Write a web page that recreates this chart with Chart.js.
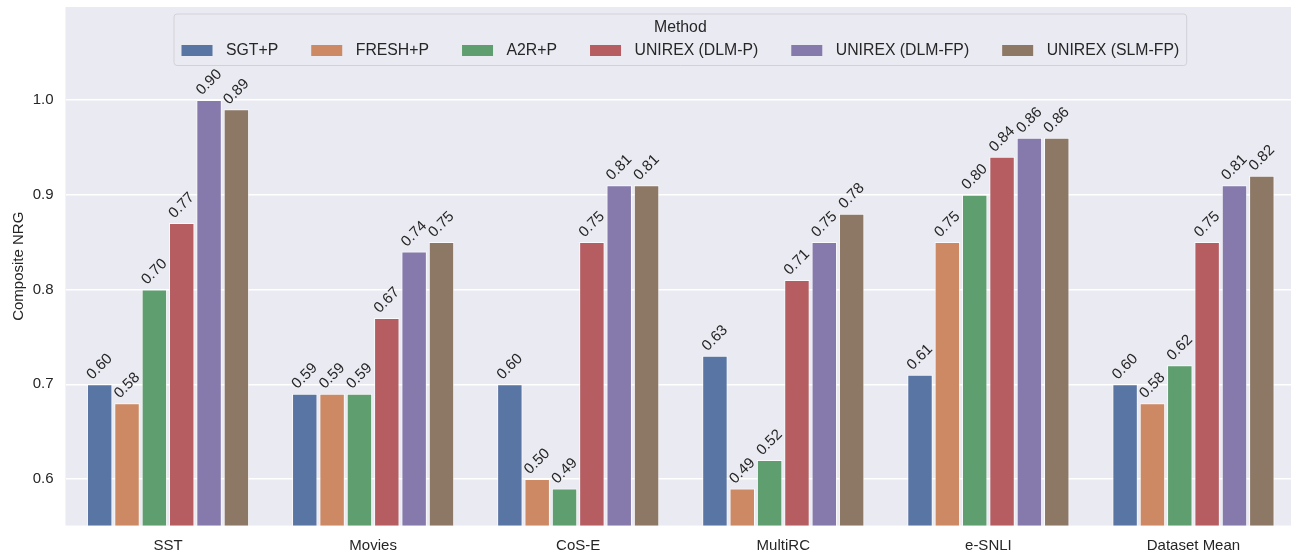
<!DOCTYPE html>
<html>
<head>
<meta charset="utf-8">
<script src="https://cdn.jsdelivr.net/npm/chart.js@4.4.1/dist/chart.umd.min.js"></script>
<style>
  html, body { margin: 0; padding: 0; background: #ffffff; overflow: hidden; }
  #wrap { width: 1296px; height: 554px; }
</style>
</head>
<body>
<div id="wrap"><canvas id="nrgChart" width="1296" height="554"></canvas></div>
<script>
const categories = ['SST', 'Movies', 'CoS-E', 'MultiRC', 'e-SNLI', 'Dataset Mean'];
const methods = ['SGT+P', 'FRESH+P', 'A2R+P', 'UNIREX (DLM-P)', 'UNIREX (DLM-FP)', 'UNIREX (SLM-FP)'];
const colors = ['#5975a4', '#cc8963', '#5f9e6e', '#b55d60', '#857aab', '#8d7866'];

// bar heights as drawn on the axis
const sgtBars = [0.70, 0.69, 0.70, 0.73, 0.71, 0.70];
const freshBars = [0.68, 0.69, 0.60, 0.59, 0.85, 0.68];
const a2rBars = [0.80, 0.69, 0.59, 0.62, 0.90, 0.72];
const dlmPBars = [0.87, 0.77, 0.85, 0.81, 0.94, 0.85];
const dlmFpBars = [1.00, 0.84, 0.91, 0.85, 0.96, 0.91];
const slmFpBars = [0.99, 0.85, 0.91, 0.88, 0.96, 0.92];

// numbers printed above the bars
const sgtLabels = [0.60, 0.59, 0.60, 0.63, 0.61, 0.60];
const freshLabels = [0.58, 0.59, 0.50, 0.49, 0.75, 0.58];
const a2rLabels = [0.70, 0.59, 0.49, 0.52, 0.80, 0.62];
const dlmPLabels = [0.77, 0.67, 0.75, 0.71, 0.84, 0.75];
const dlmFpLabels = [0.90, 0.74, 0.81, 0.75, 0.86, 0.81];
const slmFpLabels = [0.89, 0.75, 0.81, 0.78, 0.86, 0.82];

const yTicks = [0.6, 0.7, 0.8, 0.9, 1.0];
const yMin = 0.551;
const yMax = 1.098;

const barSeries = [sgtBars, freshBars, a2rBars, dlmPBars, dlmFpBars, slmFpBars];
const labelSeries = [sgtLabels, freshLabels, a2rLabels, dlmPLabels, dlmFpLabels, slmFpLabels];

const TEXT_COLOR = '#262626';
const FONT = '"Liberation Sans", Arial, sans-serif';

const plotBackground = {
  id: 'plotBackground',
  beforeDraw(chart) {
    const { ctx, chartArea } = chart;
    ctx.save();
    ctx.fillStyle = '#eaeaf2';
    ctx.fillRect(chartArea.left, chartArea.top, chartArea.right - chartArea.left, chartArea.bottom - chartArea.top);
    ctx.restore();
  },
};

const barLabels = {
  id: 'barLabels',
  afterDatasetsDraw(chart) {
    const { ctx } = chart;
    const size = 15;
    ctx.save();
    ctx.font = `${size}px ${FONT}`;
    ctx.fillStyle = TEXT_COLOR;
    ctx.textAlign = 'center';
    ctx.textBaseline = 'middle';
    chart.data.datasets.forEach((ds, i) => {
      const meta = chart.getDatasetMeta(i);
      meta.data.forEach((bar, j) => {
        const text = labelSeries[i][j].toFixed(2);
        const w = ctx.measureText(text).width;
        const half = (w + size) * Math.SQRT1_2 / 2;
        ctx.save();
        ctx.translate(bar.x, bar.y - 2 - half);
        ctx.rotate(-Math.PI / 4);
        ctx.fillText(text, 0, 0);
        ctx.restore();
      });
    });
    ctx.restore();
  },
};

const boxLegend = {
  id: 'boxLegend',
  afterDraw(chart) {
    const { ctx } = chart;
    const size = 15.8;
    const boxLeft = 174;
    const boxTop = 14;
    const boxHeight = 51.5;
    const swatchW = 31;
    const swatchH = 11;
    const textPad = 13.5;
    const colGap = 33;
    const padX = 7.5;

    ctx.save();
    ctx.font = `${size}px ${FONT}`;
    const widths = methods.map((m) => ctx.measureText(m).width);
    let total = padX * 2;
    widths.forEach((w, i) => {
      total += swatchW + textPad + w + (i < widths.length - 1 ? colGap : 0);
    });

    ctx.globalAlpha = 0.8;
    ctx.fillStyle = '#eaeaf2';
    ctx.beginPath();
    ctx.roundRect(boxLeft, boxTop, total, boxHeight, 3);
    ctx.fill();
    ctx.globalAlpha = 1;
    ctx.strokeStyle = '#d2d2d6';
    ctx.lineWidth = 1;
    ctx.stroke();

    ctx.fillStyle = TEXT_COLOR;
    ctx.textAlign = 'center';
    ctx.textBaseline = 'middle';
    ctx.fillText('Method', boxLeft + total / 2, boxTop + 13.5);

    const rowY = boxTop + 36.5;
    let x = boxLeft + padX;
    ctx.textAlign = 'left';
    methods.forEach((m, i) => {
      ctx.fillStyle = colors[i];
      ctx.fillRect(x, rowY - swatchH / 2, swatchW, swatchH);
      x += swatchW + textPad;
      ctx.fillStyle = TEXT_COLOR;
      ctx.fillText(m, x, rowY + 0.5);
      x += widths[i] + colGap;
    });
    ctx.restore();
  },
};

const datasets = methods.map((m, i) => ({
  label: m,
  data: barSeries[i],
  backgroundColor: colors[i],
  borderColor: 'rgba(255,255,255,0.75)',
  borderWidth: 1,
  categoryPercentage: 0.8,
  barPercentage: 0.93,
}));

new Chart(document.getElementById('nrgChart'), {
  type: 'bar',
  data: { labels: categories, datasets },
  options: {
    responsive: false,
    animation: false,
    devicePixelRatio: 1,
    layout: { padding: { top: 7, right: 0, left: 0, bottom: 0 } },
    plugins: {
      legend: { display: false },
      tooltip: { enabled: false },
    },
    scales: {
      x: {
        grid: { display: false, drawTicks: false },
        border: { display: false },
        ticks: {
          color: TEXT_COLOR,
          font: { family: FONT, size: 15 },
          padding: 11,
          maxRotation: 0,
        },
        afterFit: (scale) => {
          scale.height = 28.5;
          scale.paddingLeft = 0;
          scale.paddingRight = 0;
        },
      },
      y: {
        min: yMin,
        max: yMax,
        grid: { color: '#ffffff', lineWidth: 1.5, drawTicks: false },
        border: { display: false },
        ticks: {
          color: TEXT_COLOR,
          font: { family: FONT, size: 15 },
          padding: 12,
          callback: (v) => Number(v).toFixed(1),
        },
        afterBuildTicks: (scale) => { scale.ticks = yTicks.map((v) => ({ value: v })); },
        title: {
          display: true,
          text: 'Composite NRG',
          color: TEXT_COLOR,
          font: { family: FONT, size: 15 },
          padding: { top: 9.5, bottom: 0 },
        },
        afterFit: (scale) => {
          scale.width = 65.5;
          scale.paddingTop = 0;
          scale.paddingBottom = 0;
        },
      },
    },
  },
  plugins: [plotBackground, barLabels, boxLegend],
});
</script>
</body>
</html>
